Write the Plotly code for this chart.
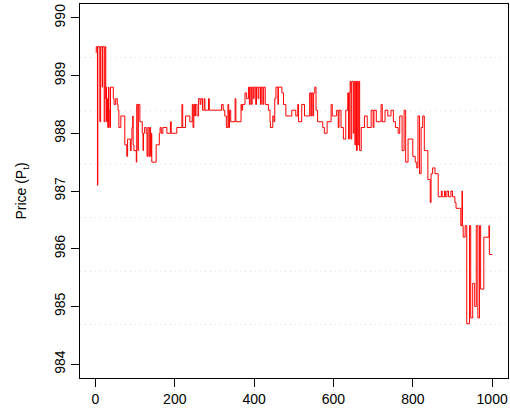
import plotly.graph_objects as go

# Time index of each price change (step points) and the price
t = [1, 2, 5, 6, 11, 13, 17, 18, 22, 24, 26, 27, 28, 30, 31, 33, 34, 36, 38, 45,
     47, 51, 55, 57, 59, 64, 74, 79, 81, 84, 88, 90, 92, 94, 95, 97, 103, 104, 107, 108,
     112, 118, 120, 121, 124, 128, 130, 132, 135, 137, 139, 141, 142, 153, 161, 163, 166, 170, 180, 189,
     191, 205, 218, 220, 227, 238, 244, 246, 248, 250, 252, 256, 260, 264, 266, 270, 274, 276, 285, 287,
     318, 322, 326, 330, 334, 336, 338, 341, 352, 354, 367, 369, 371, 377, 381, 386, 388, 390, 393, 395,
     398, 400, 404, 406, 410, 412, 416, 418, 422, 424, 428, 436, 440, 441, 447, 450, 452, 455, 460, 461,
     470, 474, 480, 495, 505, 510, 512, 520, 527, 540, 543, 545, 548, 550, 553, 556, 560, 573, 577, 584,
     594, 597, 608, 612, 614, 619, 625, 631, 636, 638, 640, 642, 644, 646, 650, 652, 654, 656, 658, 660,
     662, 664, 666, 670, 678, 685, 695, 700, 702, 708, 720, 723, 730, 737, 745, 751, 756, 763, 767, 773,
     778, 782, 788, 800, 806, 810, 813, 817, 821, 825, 829, 834, 838, 844, 846, 850, 856, 864, 872, 874,
     880, 882, 886, 890, 896, 900, 906, 909, 921, 924, 925, 927, 932, 936, 943, 946, 951, 956, 960, 964,
     968, 971, 979, 992, 993, 1000]
price = [989.4, 989.5, 987.1, 989.5, 988.2, 989.5, 988.8, 989.5, 988.2, 989.5, 988.6, 988.8, 988.2, 988.6, 988.1, 988.8, 988.4, 988.1, 988.8, 988.6,
         988.5, 988.6, 988.5, 988.4, 988.1, 988.3, 987.8, 987.6, 987.9, 987.9, 987.7, 987.9, 988.1, 988.3, 987.8, 987.7, 987.5, 988.5, 987.7, 988.5,
         988.2, 988.0, 987.7, 988.0, 988.1, 988.0, 987.6, 988.1, 987.6, 988.1, 987.6, 988.0, 987.5, 987.8, 988.0, 988.1, 988.0, 988.1, 988.0, 988.2,
         988.0, 988.1, 988.5, 988.1, 988.3, 988.2, 988.5, 988.1, 988.5, 988.3, 988.5, 988.3, 988.6, 988.5, 988.6, 988.4, 988.6, 988.4, 988.6, 988.4,
         988.5, 988.4, 988.3, 988.1, 988.5, 988.1, 988.4, 988.2, 988.6, 988.2, 988.5, 988.4, 988.5, 988.7, 988.6, 988.8, 988.5, 988.8, 988.5, 988.8,
         988.6, 988.8, 988.5, 988.8, 988.6, 988.8, 988.5, 988.8, 988.5, 988.8, 988.5, 988.4, 988.2, 988.1, 988.3, 988.2, 988.6, 988.8, 988.5, 988.8,
         988.7, 988.5, 988.3, 988.4, 988.3, 988.5, 988.2, 988.5, 988.3, 988.7, 988.3, 988.7, 988.3, 988.7, 988.8, 988.4, 988.2, 988.1, 988.0, 988.2,
         988.5, 988.3, 988.4, 988.1, 988.4, 988.1, 987.9, 988.4, 988.7, 987.9, 988.7, 988.9, 987.9, 988.9, 988.0, 988.9, 987.8, 988.9, 987.7, 988.9,
         987.8, 988.9, 987.7, 988.1, 988.3, 988.1, 988.4, 988.1, 988.4, 988.2, 988.5, 988.2, 988.4, 988.3, 988.4, 988.2, 988.1, 988.0, 988.3, 987.7,
         988.4, 987.5, 987.9, 987.6, 987.5, 987.4, 988.3, 987.3, 988.1, 988.3, 987.7, 987.7, 987.2, 986.8, 987.3, 987.4, 987.3, 986.9, 987.0, 986.9,
         987.0, 986.9, 987.0, 986.9, 987.0, 986.9, 986.8, 986.7, 986.4, 987.0, 986.4, 986.2, 986.4, 984.7, 986.4, 984.8, 985.4, 985.0, 986.4, 984.8,
         986.4, 985.3, 986.2, 986.4, 985.9, 985.9]

x_ticks = [0, 200, 400, 600, 800, 1000]
y_ticks = [984, 985, 986, 987, 988, 989, 990]
y_title = "Price (P<sub>t</sub>)"

# R-style 4% axis extension
x_lo, x_hi = 1, 1000
x_pad = (x_hi - x_lo) * 0.04
y_lo, y_hi = 984, 990
y_pad = (y_hi - y_lo) * 0.04
x_range = [x_lo - x_pad, x_hi + x_pad]
y_range = [y_lo - y_pad, y_hi + y_pad]

# grid(ny=7): equally spaced dotted lines across the plotting region
n_grid = 7
grid_y = [y_range[0] + k * (y_range[1] - y_range[0]) / n_grid for k in range(1, n_grid)]

fig = go.Figure()
for gy in grid_y:
    fig.add_shape(type="line", xref="paper", x0=0, x1=1, yref="y", y0=gy, y1=gy,
                  line=dict(color="#dcdcdc", width=1, dash="1px,4px"), layer="below")

fig.add_trace(go.Scatter(x=t, y=price, mode="lines", line=dict(color="#ff0000", width=1, shape="hv"),
                         hoverinfo="skip", showlegend=False))

font = dict(family="Liberation Sans, Arial, sans-serif", size=14, color="#000000")
fig.update_layout(
    width=510, height=415,
    margin=dict(l=80, r=2, t=4, b=37),
    paper_bgcolor="white", plot_bgcolor="white",
    font=font,
    xaxis=dict(range=x_range, tickvals=x_ticks, ticks="outside", ticklen=8, tickcolor="black",
               showgrid=False, zeroline=False, showline=True, linecolor="black", linewidth=1,
               mirror=True, tickfont=font, automargin=False),
    yaxis=dict(range=y_range, tickvals=y_ticks, ticks="outside", ticklen=8, tickcolor="black",
               tickangle=-90, showgrid=False, zeroline=False, showline=True, linecolor="black",
               linewidth=1, mirror=True, tickfont=font, automargin=False,
               title=dict(text=y_title, font=font, standoff=22)),
)

fig.write_html("out.html", config={"displayModeBar": False},
               post_script="document.body.style.margin='0';document.body.style.overflow='hidden';")
